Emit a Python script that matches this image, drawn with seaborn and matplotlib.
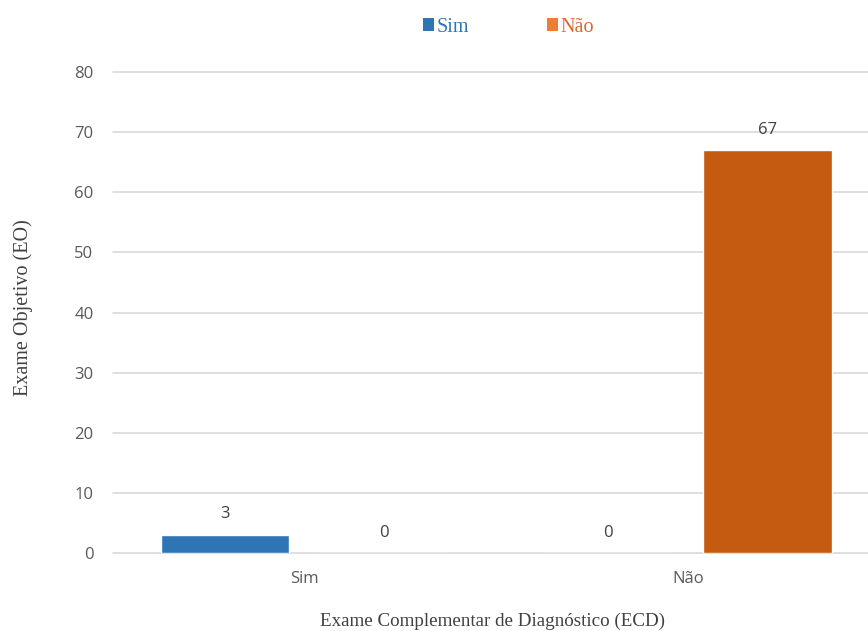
import matplotlib
matplotlib.use("Agg")
import matplotlib.pyplot as plt
import seaborn as sns
import pandas as pd
from matplotlib.patches import Patch

categories = ["Sim", "Não"]
series = ["Sim", "Não"]
sim_values = [3, 0]
nao_values = [0, 67]

df = pd.DataFrame({
    "ECD": categories * 2,
    "serie": [series[0]] * 2 + [series[1]] * 2,
    "valor": sim_values + nao_values,
})

sns.set_theme(style="white")
plt.rcParams["font.family"] = ["Open Sans", "DejaVu Sans"]

bar_colors = {"Sim": "#2E75B6", "Não": "#C55A11"}
legend_colors = {"Sim": "#2E75B6", "Não": "#ED7D31"}
text_colors = {"Sim": "#2E75B6", "Não": "#D9692A"}

fig = plt.figure(figsize=(8.68, 6.31), dpi=100)
ax = fig.add_axes([0.130, 0.1236, 0.870, 0.762])

sns.barplot(data=df, x="ECD", y="valor", hue="serie", order=categories,
            hue_order=series, palette=bar_colors, width=0.83, gap=0.19,
            saturation=1, ax=ax, legend=False)

for cont in ax.containers:
    ax.bar_label(cont, padding=9, fontsize=12, color="#404040")

ax.set_ylim(0, 80)
ax.set_yticks(range(0, 81, 10))
ax.set_xlim(-0.5, 1.47)
ax.grid(axis="y", color="#D9D9D9", linewidth=1.2)
for gl in ax.get_ygridlines():
    gl.set_clip_on(False)
ax.set_axisbelow(True)
for s in ax.spines.values():
    s.set_visible(False)
ax.tick_params(axis="both", length=0, labelsize=12, colors="#595959", pad=14)
ax.tick_params(axis="x", pad=13)

ax.set_ylabel("Exame Objetivo (EO)", family=["Liberation Serif", "DejaVu Serif"],
              fontsize=14.5, color="#404040")
ax.yaxis.set_label_coords(-0.106, 0.51)
ax.set_xlabel("Exame Complementar de Diagnóstico (ECD)",
              family=["Liberation Serif", "DejaVu Serif"], fontsize=13.7,
              color="#404040")
ax.xaxis.set_label_coords(0.503, -0.125)

handles = [Patch(facecolor=legend_colors[s], edgecolor="none") for s in series]
leg = fig.legend(handles, series, loc="center", bbox_to_anchor=(0.586, 0.957),
                 ncol=2, frameon=False, columnspacing=3.9, handlelength=0.55,
                 handleheight=0.55, handletextpad=0.12,
                 prop={"family": ["Liberation Serif", "DejaVu Serif"], "size": 14.5})
for t, s in zip(leg.get_texts(), series):
    t.set_color(text_colors[s])

fig.savefig("out.png", dpi=100)
